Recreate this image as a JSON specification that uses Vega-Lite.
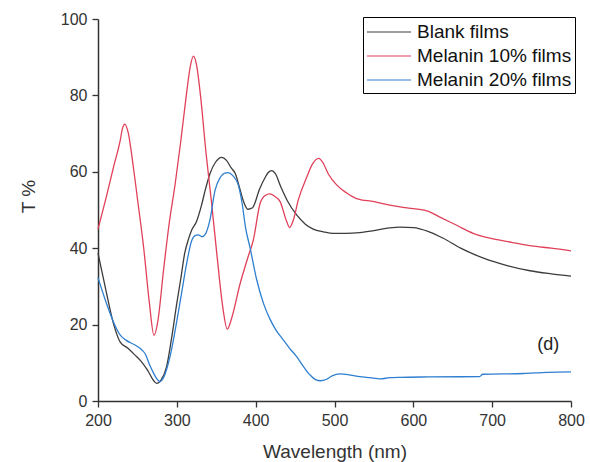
{
  "$schema": "https://vega.github.io/schema/vega-lite/v6.json",
  "width": 473,
  "height": 382,
  "autosize": {"type": "none"},
  "padding": {"left": 98, "top": 19, "right": 19, "bottom": 61},
  "background": "white",
  "config": {
    "view": {"stroke": null},
    "font": "Liberation Sans",
    "axis": {
      "grid": false,
      "domainColor": "#333333",
      "domainWidth": 1.5,
      "tickColor": "#333333",
      "tickWidth": 1.3,
      "labelFont": "Liberation Sans",
      "labelFontSize": 16,
      "labelColor": "#333333",
      "labelPadding": 5,
      "labelFlush": false,
      "titleFont": "Liberation Sans",
      "titleFontSize": 19,
      "titleFontWeight": "normal",
      "titleColor": "#333333"
    }
  },
  "datasets": {
    "spectra": [
      {"series": "Blank films", "nm": 200, "T": 38.7},
      {"series": "Blank films", "nm": 210, "T": 29},
      {"series": "Blank films", "nm": 220, "T": 20},
      {"series": "Blank films", "nm": 228, "T": 15.5},
      {"series": "Blank films", "nm": 238, "T": 13.8},
      {"series": "Blank films", "nm": 247, "T": 12},
      {"series": "Blank films", "nm": 255, "T": 10.3},
      {"series": "Blank films", "nm": 263, "T": 8},
      {"series": "Blank films", "nm": 270, "T": 5.5},
      {"series": "Blank films", "nm": 274.5, "T": 4.6},
      {"series": "Blank films", "nm": 280, "T": 5.5},
      {"series": "Blank films", "nm": 287, "T": 9},
      {"series": "Blank films", "nm": 293, "T": 16},
      {"series": "Blank films", "nm": 300, "T": 25.6},
      {"series": "Blank films", "nm": 305, "T": 32},
      {"series": "Blank films", "nm": 310, "T": 38.7},
      {"series": "Blank films", "nm": 315, "T": 42.5},
      {"series": "Blank films", "nm": 319, "T": 44.8},
      {"series": "Blank films", "nm": 325, "T": 47},
      {"series": "Blank films", "nm": 331, "T": 51},
      {"series": "Blank films", "nm": 336, "T": 55.2},
      {"series": "Blank films", "nm": 342, "T": 59.5},
      {"series": "Blank films", "nm": 349, "T": 62.5},
      {"series": "Blank films", "nm": 357, "T": 63.8},
      {"series": "Blank films", "nm": 363, "T": 63},
      {"series": "Blank films", "nm": 369, "T": 61},
      {"series": "Blank films", "nm": 374, "T": 59.6},
      {"series": "Blank films", "nm": 380, "T": 55.5},
      {"series": "Blank films", "nm": 385, "T": 52},
      {"series": "Blank films", "nm": 390, "T": 50.2},
      {"series": "Blank films", "nm": 396, "T": 50.6},
      {"series": "Blank films", "nm": 405, "T": 55.5},
      {"series": "Blank films", "nm": 412, "T": 58.5},
      {"series": "Blank films", "nm": 416, "T": 59.8},
      {"series": "Blank films", "nm": 420.4, "T": 60.3},
      {"series": "Blank films", "nm": 425, "T": 59.5},
      {"series": "Blank films", "nm": 432, "T": 56},
      {"series": "Blank films", "nm": 440, "T": 52.5},
      {"series": "Blank films", "nm": 452, "T": 48.7},
      {"series": "Blank films", "nm": 463, "T": 46.3},
      {"series": "Blank films", "nm": 473, "T": 45},
      {"series": "Blank films", "nm": 486, "T": 44.3},
      {"series": "Blank films", "nm": 498.6, "T": 43.9},
      {"series": "Blank films", "nm": 515, "T": 43.9},
      {"series": "Blank films", "nm": 532, "T": 44.1},
      {"series": "Blank films", "nm": 550, "T": 44.6},
      {"series": "Blank films", "nm": 570, "T": 45.3},
      {"series": "Blank films", "nm": 583, "T": 45.5},
      {"series": "Blank films", "nm": 600, "T": 45.4},
      {"series": "Blank films", "nm": 620, "T": 44.3},
      {"series": "Blank films", "nm": 638, "T": 42.6},
      {"series": "Blank films", "nm": 660, "T": 40},
      {"series": "Blank films", "nm": 689, "T": 37.4},
      {"series": "Blank films", "nm": 720, "T": 35.4},
      {"series": "Blank films", "nm": 748, "T": 34.1},
      {"series": "Blank films", "nm": 775, "T": 33.3},
      {"series": "Blank films", "nm": 800, "T": 32.7},

      {"series": "Melanin 10% films", "nm": 200, "T": 45},
      {"series": "Melanin 10% films", "nm": 210, "T": 53},
      {"series": "Melanin 10% films", "nm": 220, "T": 61.5},
      {"series": "Melanin 10% films", "nm": 228, "T": 68},
      {"series": "Melanin 10% films", "nm": 231, "T": 71.3},
      {"series": "Melanin 10% films", "nm": 234, "T": 72.5},
      {"series": "Melanin 10% films", "nm": 238, "T": 70.5},
      {"series": "Melanin 10% films", "nm": 245, "T": 61},
      {"series": "Melanin 10% films", "nm": 250, "T": 53},
      {"series": "Melanin 10% films", "nm": 258, "T": 40},
      {"series": "Melanin 10% films", "nm": 265, "T": 26},
      {"series": "Melanin 10% films", "nm": 271, "T": 17.2},
      {"series": "Melanin 10% films", "nm": 276, "T": 21},
      {"series": "Melanin 10% films", "nm": 283, "T": 34},
      {"series": "Melanin 10% films", "nm": 290, "T": 46},
      {"series": "Melanin 10% films", "nm": 298, "T": 57},
      {"series": "Melanin 10% films", "nm": 305, "T": 68},
      {"series": "Melanin 10% films", "nm": 312, "T": 80},
      {"series": "Melanin 10% films", "nm": 317, "T": 87.5},
      {"series": "Melanin 10% films", "nm": 321, "T": 90.3},
      {"series": "Melanin 10% films", "nm": 325, "T": 88},
      {"series": "Melanin 10% films", "nm": 330, "T": 80},
      {"series": "Melanin 10% films", "nm": 337, "T": 65},
      {"series": "Melanin 10% films", "nm": 344, "T": 52},
      {"series": "Melanin 10% films", "nm": 351, "T": 38},
      {"series": "Melanin 10% films", "nm": 358, "T": 25},
      {"series": "Melanin 10% films", "nm": 364, "T": 18.8},
      {"series": "Melanin 10% films", "nm": 370, "T": 22},
      {"series": "Melanin 10% films", "nm": 380, "T": 30.5},
      {"series": "Melanin 10% films", "nm": 390, "T": 37.5},
      {"series": "Melanin 10% films", "nm": 397, "T": 42.1},
      {"series": "Melanin 10% films", "nm": 405.6, "T": 51.7},
      {"series": "Melanin 10% films", "nm": 412, "T": 53.8},
      {"series": "Melanin 10% films", "nm": 418, "T": 54.2},
      {"series": "Melanin 10% films", "nm": 424, "T": 53.6},
      {"series": "Melanin 10% films", "nm": 431, "T": 52.2},
      {"series": "Melanin 10% films", "nm": 439.5, "T": 46.9},
      {"series": "Melanin 10% films", "nm": 443, "T": 45.4},
      {"series": "Melanin 10% films", "nm": 448, "T": 47.5},
      {"series": "Melanin 10% films", "nm": 454, "T": 52.6},
      {"series": "Melanin 10% films", "nm": 465, "T": 58.7},
      {"series": "Melanin 10% films", "nm": 472, "T": 62},
      {"series": "Melanin 10% films", "nm": 480, "T": 63.5},
      {"series": "Melanin 10% films", "nm": 485, "T": 62.5},
      {"series": "Melanin 10% films", "nm": 492, "T": 59.5},
      {"series": "Melanin 10% films", "nm": 503, "T": 56.5},
      {"series": "Melanin 10% films", "nm": 515, "T": 54.5},
      {"series": "Melanin 10% films", "nm": 528, "T": 53},
      {"series": "Melanin 10% films", "nm": 550, "T": 52.2},
      {"series": "Melanin 10% films", "nm": 570, "T": 51.3},
      {"series": "Melanin 10% films", "nm": 590, "T": 50.6},
      {"series": "Melanin 10% films", "nm": 617, "T": 49.8},
      {"series": "Melanin 10% films", "nm": 635, "T": 48},
      {"series": "Melanin 10% films", "nm": 655, "T": 46},
      {"series": "Melanin 10% films", "nm": 676, "T": 43.9},
      {"series": "Melanin 10% films", "nm": 700, "T": 42.5},
      {"series": "Melanin 10% films", "nm": 720, "T": 41.7},
      {"series": "Melanin 10% films", "nm": 750, "T": 40.6},
      {"series": "Melanin 10% films", "nm": 775, "T": 40},
      {"series": "Melanin 10% films", "nm": 800, "T": 39.3},

      {"series": "Melanin 20% films", "nm": 200, "T": 32.3},
      {"series": "Melanin 20% films", "nm": 210, "T": 26},
      {"series": "Melanin 20% films", "nm": 220, "T": 20.5},
      {"series": "Melanin 20% films", "nm": 228, "T": 17.3},
      {"series": "Melanin 20% films", "nm": 235, "T": 16},
      {"series": "Melanin 20% films", "nm": 249, "T": 14.4},
      {"series": "Melanin 20% films", "nm": 256, "T": 13.3},
      {"series": "Melanin 20% films", "nm": 260, "T": 12.3},
      {"series": "Melanin 20% films", "nm": 265, "T": 9.7},
      {"series": "Melanin 20% films", "nm": 270, "T": 7.5},
      {"series": "Melanin 20% films", "nm": 274, "T": 6},
      {"series": "Melanin 20% films", "nm": 278.7, "T": 5.1},
      {"series": "Melanin 20% films", "nm": 284, "T": 6.5},
      {"series": "Melanin 20% films", "nm": 290, "T": 10.5},
      {"series": "Melanin 20% films", "nm": 294, "T": 14.2},
      {"series": "Melanin 20% films", "nm": 300, "T": 21},
      {"series": "Melanin 20% films", "nm": 306, "T": 28.2},
      {"series": "Melanin 20% films", "nm": 312, "T": 35.5},
      {"series": "Melanin 20% films", "nm": 319, "T": 42.1},
      {"series": "Melanin 20% films", "nm": 323, "T": 43.3},
      {"series": "Melanin 20% films", "nm": 327, "T": 43.5},
      {"series": "Melanin 20% films", "nm": 332, "T": 43},
      {"series": "Melanin 20% films", "nm": 336, "T": 43.6},
      {"series": "Melanin 20% films", "nm": 342, "T": 47.4},
      {"series": "Melanin 20% films", "nm": 348.5, "T": 55.2},
      {"series": "Melanin 20% films", "nm": 355, "T": 58.5},
      {"series": "Melanin 20% films", "nm": 360, "T": 59.6},
      {"series": "Melanin 20% films", "nm": 365, "T": 59.8},
      {"series": "Melanin 20% films", "nm": 371, "T": 59},
      {"series": "Melanin 20% films", "nm": 378, "T": 56.5},
      {"series": "Melanin 20% films", "nm": 383, "T": 51.5},
      {"series": "Melanin 20% films", "nm": 387, "T": 45.6},
      {"series": "Melanin 20% films", "nm": 393, "T": 40},
      {"series": "Melanin 20% films", "nm": 401, "T": 32},
      {"series": "Melanin 20% films", "nm": 410, "T": 25.5},
      {"series": "Melanin 20% films", "nm": 418, "T": 21.5},
      {"series": "Melanin 20% films", "nm": 426, "T": 18.5},
      {"series": "Melanin 20% films", "nm": 435, "T": 16},
      {"series": "Melanin 20% films", "nm": 443, "T": 13.8},
      {"series": "Melanin 20% films", "nm": 452, "T": 11.6},
      {"series": "Melanin 20% films", "nm": 460, "T": 9.2},
      {"series": "Melanin 20% films", "nm": 469, "T": 6.8},
      {"series": "Melanin 20% films", "nm": 476, "T": 5.6},
      {"series": "Melanin 20% films", "nm": 482, "T": 5.3},
      {"series": "Melanin 20% films", "nm": 490, "T": 5.7},
      {"series": "Melanin 20% films", "nm": 497, "T": 6.6},
      {"series": "Melanin 20% films", "nm": 507, "T": 7.1},
      {"series": "Melanin 20% films", "nm": 520, "T": 6.8},
      {"series": "Melanin 20% films", "nm": 532, "T": 6.4},
      {"series": "Melanin 20% films", "nm": 545, "T": 6.1},
      {"series": "Melanin 20% films", "nm": 558, "T": 5.8},
      {"series": "Melanin 20% films", "nm": 570, "T": 6.1},
      {"series": "Melanin 20% films", "nm": 583, "T": 6.2},
      {"series": "Melanin 20% films", "nm": 620, "T": 6.3},
      {"series": "Melanin 20% films", "nm": 684, "T": 6.4},
      {"series": "Melanin 20% films", "nm": 688, "T": 7},
      {"series": "Melanin 20% films", "nm": 740, "T": 7.2},
      {"series": "Melanin 20% films", "nm": 770, "T": 7.5},
      {"series": "Melanin 20% films", "nm": 800, "T": 7.6}
    ]
  },
  "layer": [
    {
      "data": {"name": "spectra"},
      "mark": {"type": "line", "interpolate": "monotone", "strokeWidth": 1.3},
      "encoding": {
        "x": {
          "field": "nm",
          "type": "quantitative",
          "scale": {"domain": [200, 800], "nice": false, "zero": false},
          "axis": {
            "title": "Wavelength (nm)",
            "values": [200, 250, 300, 350, 400, 450, 500, 550, 600, 650, 700, 750, 800],
            "labelExpr": "datum.value % 100 === 0 ? datum.label : ''",
            "tickSize": {"condition": {"test": "datum.value % 100 === 0", "value": 6}, "value": 3},
            "labelOverlap": false,
            "titleBaseline": "alphabetic",
            "titleY": 56
          }
        },
        "y": {
          "field": "T",
          "type": "quantitative",
          "scale": {"domain": [0, 100], "nice": false},
          "axis": {
            "title": "T %",
            "values": [0, 10, 20, 30, 40, 50, 60, 70, 80, 90, 100],
            "labelExpr": "datum.value % 20 === 0 ? datum.label : ''",
            "tickSize": {"condition": {"test": "datum.value % 20 === 0", "value": 6}, "value": 3},
            "labelOverlap": false,
            "titleAngle": -90,
            "titleBaseline": "middle",
            "titleAlign": "center",
            "titleX": -70,
            "titleY": 177
          }
        },
        "color": {
          "field": "series",
          "type": "nominal",
          "scale": {
            "domain": ["Blank films", "Melanin 10% films", "Melanin 20% films"],
            "range": ["#3c3c3c", "#e0405a", "#2f7fd0"]
          },
          "legend": {
            "title": null,
            "orient": "none",
            "legendX": 265,
            "legendY": -2,
            "strokeColor": "#000000",
            "fillColor": "white",
            "padding": 3,
            "symbolType": "M-2,0H2",
            "symbolSize": 484,
            "symbolOffset": 11,
            "symbolStrokeWidth": 1.2,
            "labelFont": "Liberation Sans",
            "labelFontSize": 19,
            "labelColor": "#111111",
            "labelOffset": 16,
            "rowPadding": 2
          }
        }
      }
    },
    {
      "data": {"values": [{"nm": 771, "T": 14.7, "label": "(d)"}]},
      "mark": {"type": "text", "fontSize": 18, "font": "Liberation Sans", "color": "#222222", "baseline": "middle", "align": "center"},
      "encoding": {
        "x": {"field": "nm", "type": "quantitative"},
        "y": {"field": "T", "type": "quantitative"},
        "text": {"field": "label"}
      }
    }
  ]
}
